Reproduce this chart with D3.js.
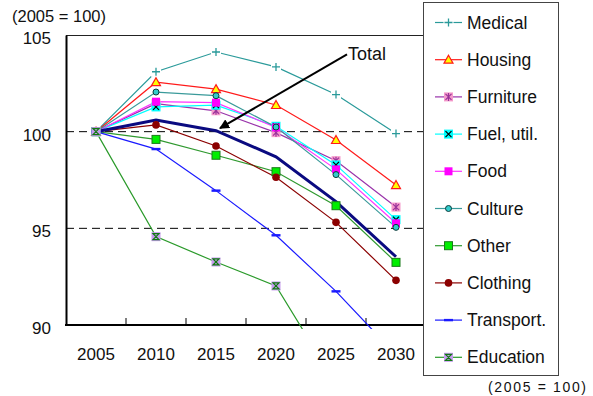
<!DOCTYPE html>
<html>
<head>
<meta charset="utf-8">
<script src="https://cdn.jsdelivr.net/npm/d3@7"></script>
<style>
  html, body { margin: 0; padding: 0; background: #fff; }
  svg { display: block; font-family: "Liberation Sans", Arial, sans-serif; }
</style>
</head>
<body>
<svg id="chart" width="593" height="396"></svg>
<script>
// Price index by spending category (2005 = 100)
const years = ["2005", "2010", "2015", "2020", "2025", "2030"];
const yTicks = [90, 95, 100, 105];

const medical   = [100, 103.10, 104.12, 103.35, 101.92, 99.90];
const housing   = [100, 102.56, 102.20, 101.38, 99.57, 97.24];
const furniture = [100, 101.45, 101.08, 99.95, 98.50, 96.10];
const fuelUtil  = [100, 101.28, 101.37, 100.28, 98.28, 95.45];
const food      = [100, 101.55, 101.50, 100.22, 98.05, 95.26];
const culture   = [100, 102.05, 101.86, 100.24, 97.78, 95.05];
const other     = [100, 99.60, 98.78, 97.93, 96.17, 93.24];
const clothing  = [100, 100.35, 99.26, 97.64, 95.31, 92.31];
const transport = [100, 99.10, 96.95, 94.64, 91.74, 88.46];
const education = [100, 94.57, 93.26, 92.02, 86.95, 85.60];
const total     = [100, 100.60, 100.05, 98.70, 96.38, 93.53];

const series = [
  { name: "Medical",      values: medical,   line: "#2a9a9a", marker: "plus" },
  { name: "Housing",      values: housing,   line: "#ff1a1a", marker: "triangle" },
  { name: "Furniture",    values: furniture, line: "#9933aa", marker: "asterisk" },
  { name: "Fuel, util.",  values: fuelUtil,  line: "#00ffff", marker: "xbox" },
  { name: "Food",         values: food,      line: "#ff33ff", marker: "square" },
  { name: "Culture",      values: culture,   line: "#3a9a9a", marker: "dot" },
  { name: "Other",        values: other,     line: "#2f992f", marker: "greenbox" },
  { name: "Clothing",     values: clothing,  line: "#8b0000", marker: "circle" },
  { name: "Transport.",   values: transport, line: "#1a1aff", marker: "dash" },
  { name: "Education",    values: education, line: "#2a9a2a", marker: "hourglass" }
];

const svg = d3.select("#chart");
const plot = { left: 66, right: 426, top: 35, bottom: 325 };

const x = d3.scaleBand().domain(years).range([plot.left, plot.right]);
const xc = d => x(d) + x.bandwidth() / 2;
const y = d3.scaleLinear().domain([90, 105]).range([plot.bottom, plot.top]);

// clip lines a few pixels below the x axis
svg.append("defs").append("clipPath").attr("id", "plotClip")
  .append("rect")
  .attr("x", plot.left).attr("y", plot.top)
  .attr("width", plot.right - plot.left).attr("height", plot.bottom - plot.top + 4);

// dashed reference lines
svg.append("g").selectAll("line")
  .data([95, 100]).join("line")
  .attr("x1", plot.left).attr("x2", plot.right)
  .attr("y1", d => y(d)).attr("y2", d => y(d))
  .attr("stroke", "#000").attr("stroke-width", 1)
  .attr("stroke-dasharray", "8,5");

// top frame edge
svg.append("line")
  .attr("x1", plot.left).attr("x2", plot.right)
  .attr("y1", plot.top + 0.5).attr("y2", plot.top + 0.5)
  .attr("stroke", "#222").attr("stroke-width", 1);

// y axis
const yAxis = d3.axisLeft(y).tickValues(yTicks).tickSize(0).tickPadding(15);
const gy = svg.append("g").attr("transform", `translate(${plot.left},0)`).call(yAxis);
gy.select(".domain").attr("stroke", "#000").attr("stroke-width", 2);
gy.selectAll("text").attr("font-size", 17).attr("fill", "#111")
  .attr("font-family", "Liberation Sans, Arial, sans-serif")
  .attr("dy", "0.5em");

// x axis: ticks between categories, pointing inward
const gx = svg.append("g").attr("transform", `translate(0,${plot.bottom})`);
gx.append("line")
  .attr("x1", plot.left - 1).attr("x2", plot.right)
  .attr("stroke", "#000").attr("stroke-width", 2);
gx.selectAll("line.tick")
  .data(years.slice(1)).join("line").attr("class", "tick")
  .attr("x1", d => x(d)).attr("x2", d => x(d))
  .attr("y1", 0).attr("y2", -7)
  .attr("stroke", "#000").attr("stroke-width", 1);
gx.selectAll("text")
  .data(years).join("text")
  .attr("x", d => xc(d)).attr("y", 35)
  .attr("text-anchor", "middle")
  .attr("font-size", 17).attr("fill", "#111")
  .text(d => d);

// series lines
const lineGen = d3.line().x((d, i) => xc(years[i])).y(d => y(d));
const linesG = svg.append("g").attr("clip-path", "url(#plotClip)");
series.forEach(s => {
  linesG.append("path")
    .attr("d", lineGen(s.values))
    .attr("fill", "none").attr("stroke", s.line).attr("stroke-width", 1.2);
});
// total line
linesG.append("path")
  .attr("d", lineGen(total))
  .attr("fill", "none").attr("stroke", "#0a0a80").attr("stroke-width", 3);

// marker drawing
function drawMarker(g, type, cx, cy) {
  switch (type) {
    case "plus":
      g.append("rect").attr("x", cx - 5).attr("y", cy - 5).attr("width", 10).attr("height", 10).attr("fill", "#fff");
      g.append("path").attr("d", `M${cx - 4},${cy}H${cx + 4}M${cx},${cy - 4}V${cy + 4}`)
        .attr("stroke", "#2a9a9a").attr("stroke-width", 1.3);
      break;
    case "triangle":
      g.append("path").attr("d", `M${cx},${cy - 4.5}L${cx + 4.5},${cy + 3.5}L${cx - 4.5},${cy + 3.5}Z`)
        .attr("fill", "#ffff00").attr("stroke", "#ff1a1a").attr("stroke-width", 1.2);
      break;
    case "asterisk":
      g.append("rect").attr("x", cx - 4.5).attr("y", cy - 4.5).attr("width", 9).attr("height", 9).attr("fill", "#f59acb");
      g.append("path").attr("d", `M${cx - 3},${cy - 3}L${cx + 3},${cy + 3}M${cx + 3},${cy - 3}L${cx - 3},${cy + 3}M${cx},${cy - 4}V${cy + 4}`)
        .attr("stroke", "#993399").attr("stroke-width", 1.2);
      break;
    case "xbox":
      g.append("rect").attr("x", cx - 4.5).attr("y", cy - 4.5).attr("width", 9).attr("height", 9).attr("fill", "#00ffff");
      g.append("path").attr("d", `M${cx - 3},${cy - 3}L${cx + 3},${cy + 3}M${cx + 3},${cy - 3}L${cx - 3},${cy + 3}`)
        .attr("stroke", "#000").attr("stroke-width", 1.2);
      break;
    case "square":
      g.append("rect").attr("x", cx - 4).attr("y", cy - 4).attr("width", 8).attr("height", 8).attr("fill", "#ff00ff");
      break;
    case "dot":
      g.append("circle").attr("cx", cx).attr("cy", cy).attr("r", 3)
        .attr("fill", "#33cccc").attr("stroke", "#0b3b3b").attr("stroke-width", 1);
      break;
    case "greenbox":
      g.append("rect").attr("x", cx - 4).attr("y", cy - 4).attr("width", 8).attr("height", 8)
        .attr("fill", "#00ee00").attr("stroke", "#1a7a1a").attr("stroke-width", 1);
      break;
    case "circle":
      g.append("circle").attr("cx", cx).attr("cy", cy).attr("r", 3.8).attr("fill", "#8b0000");
      break;
    case "dash":
      g.append("rect").attr("x", cx - 4.5).attr("y", cy - 1.2).attr("width", 9).attr("height", 2.4).attr("fill", "#1a1aff");
      break;
    case "hourglass":
      g.append("rect").attr("x", cx - 4.5).attr("y", cy - 4.5).attr("width", 9).attr("height", 9).attr("fill", "#c79cf0");
      g.append("path").attr("d", `M${cx - 3},${cy - 3}H${cx + 3}L${cx - 3},${cy + 3}H${cx + 3}Z`)
        .attr("fill", "none").attr("stroke", "#107a10").attr("stroke-width", 1.2);
      break;
  }
}

// series markers (only points inside the value range)
const markersG = svg.append("g");
series.forEach(s => {
  s.values.forEach((v, i) => {
    if (v >= 90 && v <= 105) drawMarker(markersG, s.marker, xc(years[i]), y(v));
  });
});

// callout for the total line
svg.append("defs").append("marker")
  .attr("id", "arrowHead").attr("viewBox", "0 0 10 10")
  .attr("refX", 9).attr("refY", 5)
  .attr("markerWidth", 5).attr("markerHeight", 5)
  .attr("markerUnits", "strokeWidth")
  .attr("orient", "auto")
  .append("path").attr("d", "M0,0L10,5L0,10Z").attr("fill", "#000");

const calloutFrom = [xc("2025") + 11, y(104.0)];
const calloutTo = [xc("2015") + 4, y(100.18)];
svg.append("line")
  .attr("x1", calloutFrom[0]).attr("y1", calloutFrom[1])
  .attr("x2", calloutTo[0]).attr("y2", calloutTo[1])
  .attr("stroke", "#000").attr("stroke-width", 2)
  .attr("marker-end", "url(#arrowHead)");
svg.append("text")
  .attr("x", calloutFrom[0] + 1).attr("y", 60)
  .attr("font-size", 18).attr("fill", "#111")
  .text("Total");

// unit labels
svg.append("text").attr("x", 12).attr("y", 22)
  .attr("font-size", 16.5).attr("fill", "#111")
  .text("(2005 = 100)");

// legend
const legend = svg.append("g");
legend.append("rect")
  .attr("x", 423.5).attr("y", 2.5).attr("width", 135).attr("height", 373)
  .attr("fill", "#fff").attr("stroke", "#444").attr("stroke-width", 1);
series.forEach((s, i) => {
  const cy = 22.5 + i * 37.2;
  legend.append("line")
    .attr("x1", 435).attr("x2", 462).attr("y1", cy).attr("y2", cy)
    .attr("stroke", s.line).attr("stroke-width", 1.2);
  drawMarker(legend, s.marker, 448.5, cy);
  legend.append("text")
    .attr("x", 467).attr("y", cy + 6)
    .attr("font-size", 17.5).attr("fill", "#111")
    .text(s.name);
});

svg.append("text").attr("x", 488).attr("y", 392)
  .attr("font-size", 14).attr("fill", "#111")
  .attr("textLength", 98).attr("lengthAdjust", "spacing")
  .text("(2005 = 100)");
</script>
</body>
</html>
